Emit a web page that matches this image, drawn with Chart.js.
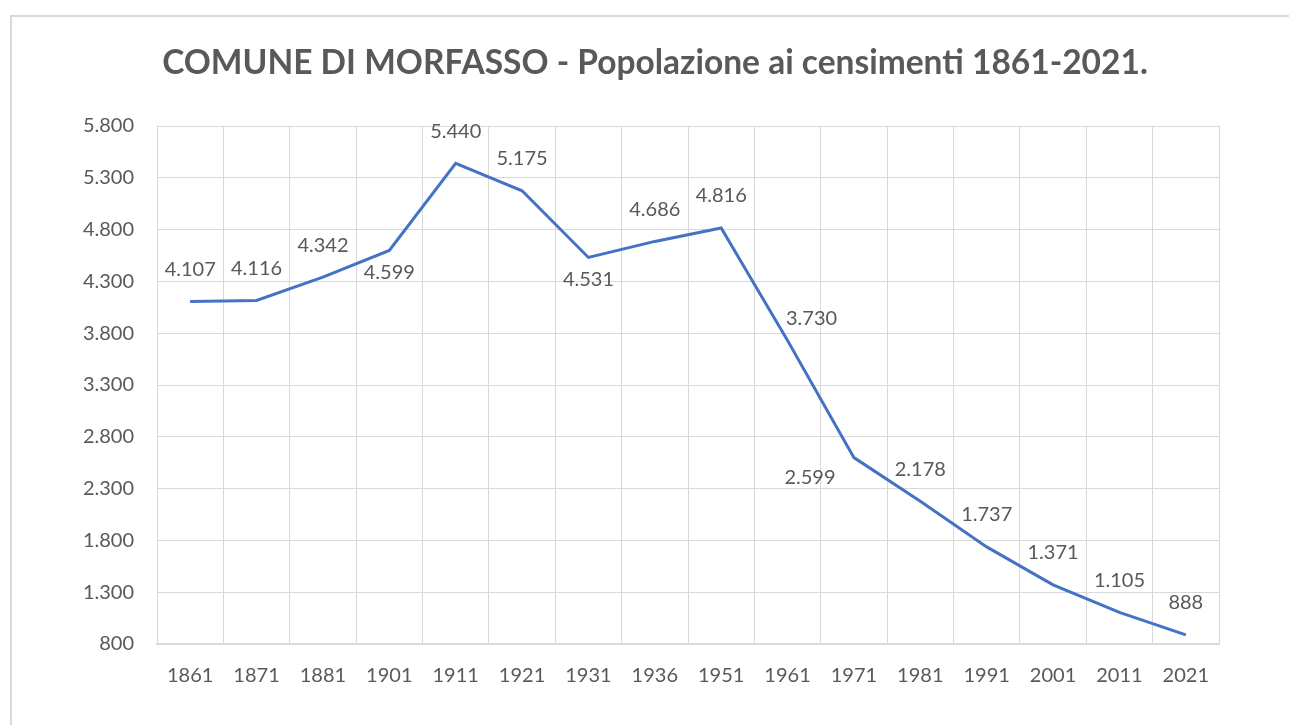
<!DOCTYPE html>
<html>
<head>
<meta charset="utf-8">
<script src="https://cdn.jsdelivr.net/npm/chart.js@4/dist/chart.umd.min.js"></script>
<style>
  body { margin: 0; background: #fff; }
  #frame { position: absolute; left: 10px; top: 15px; width: 1290px; height: 720px; border: 2px solid #d9d9d9; box-sizing: border-box; }
  #myChart { position: absolute; left: 0; top: 0; }
</style>
</head>
<body>
<div id="frame"></div>
<canvas id="myChart" width="1289" height="725"></canvas>
<script>
const years = ["1861","1871","1881","1901","1911","1921","1931","1936","1951","1961","1971","1981","1991","2001","2011","2021"];
const population = [4107, 4116, 4342, 4599, 5440, 5175, 4531, 4686, 4816, 3730, 2599, 2178, 1737, 1371, 1105, 888];
const yTicks = [800, 1300, 1800, 2300, 2800, 3300, 3800, 4300, 4800, 5300, 5800];
const chartTitle = 'COMUNE DI MORFASSO - Popolazione ai censimenti 1861-2021.';

// where each value label goes relative to its point
const labelPlace = ['up','up','up','down','up','up','down','up','up','right','downleft','up','up','up','up','up'];

const fmt = v => String(v).replace(/\B(?=(\d{3})+(?!\d))/g, '.');
const txt = '#595959';
const font = 'Lato, "Open Sans", sans-serif';

const valueLabels = {
    id: 'valueLabels',
    afterDatasetsDraw(chart) {
        const ctx = chart.ctx;
        const pts = chart.getDatasetMeta(0).data;
        ctx.save();
        ctx.font = '20px ' + font;
        ctx.fillStyle = txt;
        ctx.textAlign = 'center';
        ctx.textBaseline = 'middle';
        pts.forEach((p, i) => {
            let x = p.x, y = p.y;
            const where = labelPlace[i];
            if (where === 'up') y -= 32;
            else if (where === 'down') y += 22;
            else if (where === 'right') { x += 24; y -= 22; }
            else if (where === 'downleft') { x -= 44; y += 20; }
            ctx.fillText(fmt(population[i]), x, y);
        });
        ctx.restore();
    }
};

// title centred on the whole frame, not on the plot
const frameTitle = {
    id: 'frameTitle',
    afterDraw(chart) {
        const ctx = chart.ctx;
        ctx.save();
        ctx.font = 'bold 33.5px ' + font;
        ctx.fillStyle = txt;
        ctx.textAlign = 'center';
        ctx.textBaseline = 'middle';
        ctx.fillText(chartTitle, 655, 63);
        ctx.restore();
    }
};

const ctx = document.getElementById('myChart').getContext('2d');

const myChart = new Chart(ctx, {
    type: 'line',
    data: {
        labels: years,
        datasets: [{
            label: 'Popolazione',
            data: population,
            borderColor: '#4472c4',
            borderWidth: 3,
            pointRadius: 0,
            tension: 0,
            fill: false
        }]
    },
    options: {
        responsive: false,
        animation: false,
        layout: { padding: { left: 0, right: 70, top: 126, bottom: 31 } },
        plugins: {
            legend: { display: false },
            tooltip: { enabled: false },
            title: { display: false }
        },
        scales: {
            x: {
                offset: true,
                grid: { color: '#d9d9d9', drawTicks: false, offset: true },
                border: { color: '#d9d9d9', width: 2 },
                ticks: { color: txt, font: { family: font, size: 20 }, padding: 20, maxRotation: 0 },
                afterFit: s => { s.height = 50; }
            },
            y: {
                min: yTicks[0],
                max: yTicks[yTicks.length - 1],
                afterBuildTicks: s => { s.ticks = yTicks.map(v => ({ value: v })); },
                grid: { color: '#d9d9d9', drawTicks: false },
                border: { color: '#d9d9d9' },
                ticks: { color: txt, font: { family: font, size: 20 }, padding: 23, callback: v => fmt(v) },
                afterFit: s => { s.width = 157; }
            }
        }
    },
    plugins: [valueLabels, frameTitle]
});
</script>
</body>
</html>
